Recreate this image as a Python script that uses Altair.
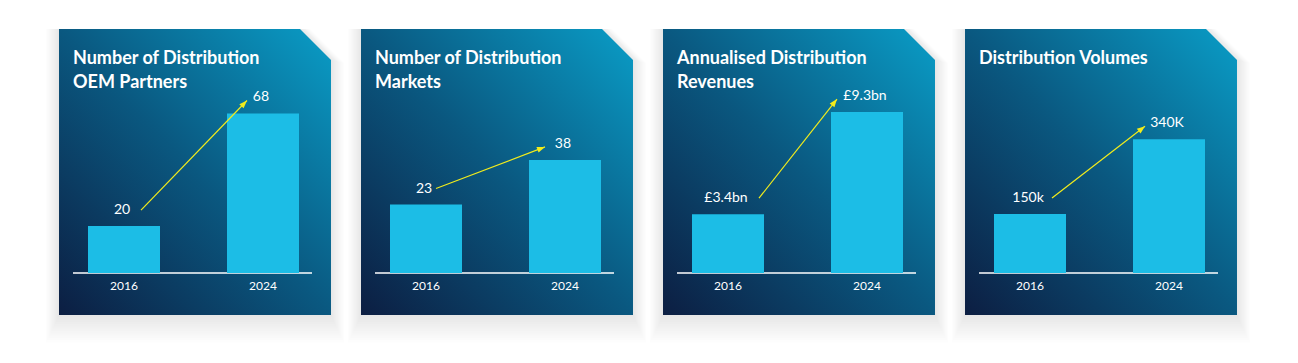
import math
import altair as alt
import pandas as pd

# ---- data ----
titles = [["Number of Distribution", "OEM Partners"],
          ["Number of Distribution", "Markets"],
          ["Annualised Distribution", "Revenues"],
          ["Distribution Volumes"]]
years = ["2016", "2024"]
values = [[20, 68], [23, 38], [3.4, 9.3], [150, 340]]
value_labels = [["20", "68"], ["23", "38"], ["£3.4bn", "£9.3bn"], ["150k", "340K"]]
y_max = [104, 82, 14.1, 620]          # top of each panel's own value scale

# ---- style ----
arrow_start_dx = [17, 10, 31, 22]
arrow_end_dx = [-16, -20, -30, -24]
FONT = "Lato"
BAR = "#1cbde6"
ARROW = "#f2ec1c"
W, H = 302, 336          # panel plot area incl. shadow room
MX, MY = 15, 10          # card offset inside panel
CW, CH = 272, 286        # card size
BASE = MY + 244          # baseline pixel
X0, X1 = MX + 29, MX + 240
PI = 0.482
LABEL_DY = -16

hw = (CW / 2) / (CH / 2)
cut = 31 / (CH / 2)
CARD_PATH = f"M{-hw:.4f},-1L{hw - cut:.4f},-1L{hw:.4f},{-1 + cut:.4f}L{hw:.4f},1L{-hw:.4f},1Z"
CX, CY = MX + CW / 2, MY + CH / 2
HEAD_PATH = "M0,0L-0.75,2L0.75,2Z"

grad = alt.Gradient(
    gradient="linear",
    stops=[alt.GradientStop(color="#0c1e42", offset=0),
           alt.GradientStop(color="#0a5880", offset=0.5),
           alt.GradientStop(color="#0a9dc7", offset=1)],
    x1=0, y1=1, x2=1, y2=0,
)


def panel(i):
    D = y_max[i]
    xs = alt.Scale(domain=years, range=[X0, X1], paddingInner=PI, paddingOuter=0)
    ys = alt.Scale(domain=[0, D], range=[BASE, BASE - 244], nice=False, zero=True)
    df = pd.DataFrame({"year": years, "value": values[i], "label": value_labels[i]})
    arrow = pd.DataFrame({"from": [years[0]], "to": [years[1]],
                          "v1": [values[i][0]], "v2": [values[i][1]]})
    one = pd.DataFrame({"k": [0]})

    layers = []
    # soft shadow
    for j in range(1, 13):
        s = CH / 2 + 1.15 * j
        layers.append(
            alt.Chart(one).mark_point(shape=CARD_PATH, filled=True, fill="#000000",
                                      opacity=0.007, strokeWidth=0, size=(2 * s) ** 2)
            .encode(x=alt.value(CX), y=alt.value(CY + 1.15 * j))
        )
    # card
    layers.append(
        alt.Chart(one).mark_point(shape=CARD_PATH, filled=True, fill=grad, opacity=1,
                                  strokeWidth=0, size=CH ** 2)
        .encode(x=alt.value(CX), y=alt.value(CY))
    )
    # baseline
    layers.append(
        alt.Chart(one).mark_rule(color="white", strokeWidth=1.5)
        .encode(x=alt.value(MX + 14), x2=alt.value(MX + 253), y=alt.value(BASE))
    )
    X = alt.X("year:N", scale=xs, axis=None)
    Y = alt.Y("value:Q", scale=ys, axis=None)
    layers.append(alt.Chart(df).mark_bar(color=BAR).encode(x=X, y=Y))
    layers.append(
        alt.Chart(df).mark_text(color="white", fontSize=12, font=FONT, baseline="middle")
        .encode(x=X, y=alt.value(MY + 257), text="year:N")
    )
    layers.append(
        alt.Chart(df).mark_text(color="white", fontSize=14, font=FONT, baseline="middle",
                                dy=LABEL_DY, dx=-2)
        .encode(x=X, y=Y, text="label:N")
    )
    # arrow
    step = (X1 - X0) / (2 - PI)
    bw = step * (1 - PI)
    c1, c2 = X0 + bw / 2, X0 + step + bw / 2
    k = 244 / D
    sx, sy = c1 + arrow_start_dx[i], BASE - values[i][0] * k + LABEL_DY
    ex, ey = c2 + arrow_end_dx[i], BASE - values[i][1] * k + LABEL_DY + 3
    ang = math.degrees(math.atan2(ex - sx, -(ey - sy))) % 360
    XA = alt.X("from:N", scale=xs, axis=None)
    YA = alt.Y("v1:Q", scale=ys, axis=None)
    layers.append(
        alt.Chart(arrow).mark_rule(color=ARROW, strokeWidth=1.2,
                                   xOffset=arrow_start_dx[i], x2Offset=arrow_end_dx[i],
                                   yOffset=LABEL_DY, y2Offset=LABEL_DY + 3)
        .encode(x=XA, x2="to:N", y=YA, y2="v2:Q")
    )
    layers.append(
        alt.Chart(arrow).mark_point(shape=HEAD_PATH, filled=True, fill=ARROW, opacity=1,
                                    strokeWidth=0, size=64, angle=ang,
                                    xOffset=arrow_end_dx[i], yOffset=LABEL_DY + 3)
        .encode(x=alt.X("to:N", scale=xs, axis=None), y=alt.Y("v2:Q", scale=ys, axis=None))
    )
    # title
    layers.append(
        alt.Chart(one).mark_text(text=titles[i], align="left", baseline="alphabetic",
                                 fontSize=18, fontWeight="bold", font=FONT,
                                 lineHeight=24, color="white")
        .encode(x=alt.value(MX + 14), y=alt.value(MY + 35))
    )
    return alt.layer(*layers).properties(width=W, height=H)


chart = (
    alt.hconcat(*[panel(i) for i in range(4)], spacing=0)
    .properties(padding={"left": 36, "top": 11, "right": 5, "bottom": 5}, background="white")
    .configure_view(stroke=None)
)

chart.save("out.html", embed_options={"renderer": "svg", "actions": False})
